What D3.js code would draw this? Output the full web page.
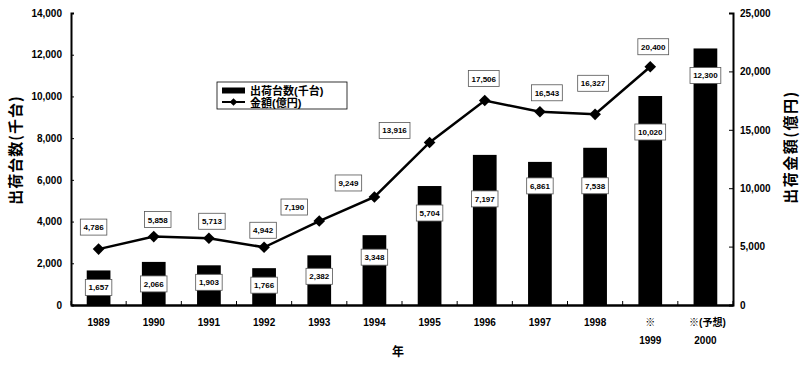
<!DOCTYPE html>
<html>
<head>
<meta charset="utf-8">
<script src="https://cdn.jsdelivr.net/npm/d3@7"></script>
<style>
  body { margin: 0; background: #fff; }
  svg { display: block; font-family: "Liberation Sans", Arial, "Noto Sans CJK JP", sans-serif; }
  .jp { font-family: "Noto Sans CJK JP", sans-serif; }
</style>
</head>
<body>
<svg id="chart" width="800" height="368"></svg>
<script>
// Data
const years = ["1989", "1990", "1991", "1992", "1993", "1994", "1995", "1996", "1997", "1998", "1999", "2000"];
const yearLine1 = ["1989", "1990", "1991", "1992", "1993", "1994", "1995", "1996", "1997", "1998", "※", "※(予想)"];
const yearLine2 = ["", "", "", "", "", "", "", "", "", "", "1999", "2000"];
const units = [1657, 2066, 1903, 1766, 2382, 3348, 5704, 7197, 6861, 7538, 10020, 12300];      // 千台
const amounts = [4786, 5858, 5713, 4942, 7190, 9249, 13916, 17506, 16543, 16327, 20400, null]; // 億円
const leftTicks = [0, 2000, 4000, 6000, 8000, 10000, 12000, 14000];
const rightTicks = [0, 5000, 10000, 15000, 20000, 25000];

// label nudges (px) as placed in the original
const barLabelDy = [17, 22, 17, 17, 21, 22, 27, 44, 24, 38, 36, 27];
const lineLabelDx = [-5, 4, 3, -1, -25, -26, -35, -1, 7, -2, 3, 0];
const lineLabelDy = [-22, -17, -17, -17, -14, -14, -12, -22, -19, -31, -20, 0];

const svg = d3.select("#chart");
const plotL = 71, plotR = 733, plotT = 13, plotB = 305;

const x = d3.scaleBand().domain(years).range([plotL, plotR]).paddingInner(0.57).paddingOuter(0.285);
const xc = d => x(d) + x.bandwidth() / 2;
const yL = d3.scaleLinear().domain([0, 14000]).range([plotB, plotT]);
const yR = d3.scaleLinear().domain([0, 25000]).range([plotB, plotT]);
const fmt = d3.format(",");

// Bars
svg.append("g")
  .selectAll("rect")
  .data(years)
  .join("rect")
  .attr("x", d => x(d))
  .attr("y", (d, i) => yL(units[i]))
  .attr("width", x.bandwidth())
  .attr("height", (d, i) => plotB - yL(units[i]))
  .attr("fill", "#000");

// Axes
const axL = svg.append("g").attr("transform", `translate(${plotL},0)`)
  .call(d3.axisLeft(yL).tickValues(leftTicks).tickSize(-3).tickFormat(fmt));
const axR = svg.append("g").attr("transform", `translate(${plotR},0)`)
  .call(d3.axisRight(yR).tickValues(rightTicks).tickSize(-4).tickFormat(fmt));
[axL, axR].forEach(a => {
  a.select(".domain").attr("stroke", "#000").attr("stroke-width", 2);
  a.selectAll(".tick line").attr("stroke", "#000");
  a.selectAll("text").attr("font-size", 10).attr("font-weight", "bold").attr("fill", "#000");
});
axL.selectAll("text").attr("x", -9);
axR.selectAll("text").attr("x", 7);

// Bottom axis
const axB = svg.append("g").attr("transform", `translate(0,${plotB})`)
  .call(d3.axisBottom(x).tickSize(0).tickFormat(""));
axB.select(".domain").attr("stroke", "#000").attr("stroke-width", 2.5);
svg.append("g")
  .selectAll("line")
  .data(d3.range(years.length + 1))
  .join("line")
  .attr("x1", i => plotL + i * (plotR - plotL) / years.length)
  .attr("x2", i => plotL + i * (plotR - plotL) / years.length)
  .attr("y1", plotB)
  .attr("y2", plotB - 4)
  .attr("stroke", "#000");

const xl = svg.append("g").attr("font-weight", "bold").attr("font-size", 10).attr("text-anchor", "middle");
xl.selectAll("text.l1").data(years).join("text").attr("class", "l1")
  .attr("x", d => xc(d) + (d === "2000" ? 2 : 0)).attr("y", 326)
  .text((d, i) => yearLine1[i]);
xl.selectAll("text.l2").data(years).join("text").attr("class", "l2")
  .attr("x", d => xc(d)).attr("y", 344)
  .text((d, i) => yearLine2[i]);

// Axis titles
svg.append("text").attr("class", "jp")
  .attr("transform", "translate(21,150) rotate(-90)")
  .attr("text-anchor", "middle").attr("font-size", 15).attr("font-weight", "bold")
  .attr("letter-spacing", 1)
  .text("出荷台数(千台)");
svg.append("text").attr("class", "jp")
  .attr("transform", "translate(796,147) rotate(-90)")
  .attr("text-anchor", "middle").attr("font-size", 15).attr("font-weight", "bold")
  .attr("letter-spacing", 1.5)
  .text("出荷金額(億円)");
svg.append("text").attr("class", "jp")
  .attr("x", 398).attr("y", 356)
  .attr("text-anchor", "middle").attr("font-size", 12).attr("font-weight", "bold")
  .text("年");

// Line
const pts = years.map((d, i) => ({ year: d, v: amounts[i], i })).filter(p => p.v != null);
svg.append("path")
  .datum(pts)
  .attr("fill", "none")
  .attr("stroke", "#000")
  .attr("stroke-width", 2.5)
  .attr("d", d3.line().x(p => xc(p.year)).y(p => yR(p.v)));

const diamond = d3.symbol().type(d3.symbolSquare).size(68);
svg.append("g")
  .selectAll("path")
  .data(pts)
  .join("path")
  .attr("d", diamond)
  .attr("transform", p => `translate(${xc(p.year)},${yR(p.v)}) rotate(45)`)
  .attr("fill", "#000");

// Value labels
function labelBox(g, cx, cy, text) {
  const w = text.length * 4.3 + 5;
  g.append("rect")
    .attr("x", cx - w / 2).attr("y", cy - 8)
    .attr("width", w).attr("height", 16)
    .attr("fill", "#fff").attr("stroke", "#555").attr("stroke-width", 0.8);
  g.append("text")
    .attr("x", cx).attr("y", cy + 3)
    .attr("text-anchor", "middle").attr("font-size", 8).attr("font-weight", "bold")
    .text(text);
}
const labels = svg.append("g");
years.forEach((d, i) => {
  labelBox(labels, xc(d), yL(units[i]) + barLabelDy[i], fmt(units[i]));
  if (amounts[i] != null)
    labelBox(labels, xc(d) + lineLabelDx[i], yR(amounts[i]) + lineLabelDy[i], fmt(amounts[i]));
});

// Legend
const lg = svg.append("g").attr("transform", "translate(217,82)");
lg.append("rect").attr("width", 130).attr("height", 27)
  .attr("fill", "#fff").attr("stroke", "#000").attr("stroke-width", 0.8);
lg.append("rect").attr("x", 5).attr("y", 5.5).attr("width", 23).attr("height", 6).attr("fill", "#000");
lg.append("line").attr("x1", 5).attr("x2", 28).attr("y1", 20).attr("y2", 20)
  .attr("stroke", "#000").attr("stroke-width", 2);
lg.append("path").attr("d", d3.symbol().type(d3.symbolSquare).size(30))
  .attr("transform", "translate(16.5,20) rotate(45)").attr("fill", "#000");
lg.append("text").attr("x", 33).attr("y", 12.5)
  .attr("font-size", 11).attr("font-weight", "bold").text("出荷台数(千台)");
lg.append("text").attr("x", 33).attr("y", 24.5)
  .attr("font-size", 11).attr("font-weight", "bold").text("金額(億円)");
</script>
</body>
</html>
